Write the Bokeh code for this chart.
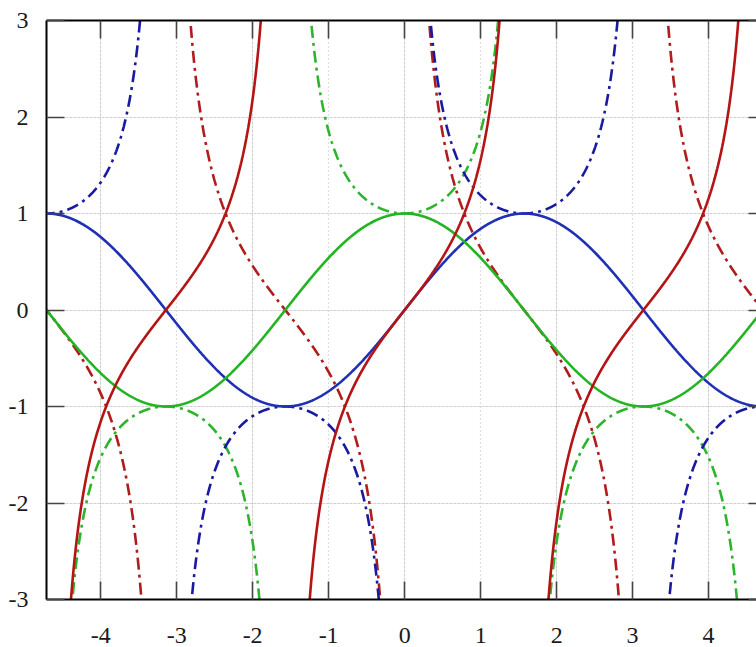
import numpy as np
from bokeh.plotting import figure
from bokeh.models import FixedTicker, LinearAxis, Range1d, Grid
from bokeh.embed import file_html
from bokeh.resources import INLINE

# ---- data ----
x_ticks = [-4, -3, -2, -1, 0, 1, 2, 3, 4]
y_ticks = [-3, -2, -1, 0, 1, 2, 3]
x_min, x_max = -1.5 * np.pi, 4.63
y_min, y_max = -3, 3

series_names = ["cot", "sec", "csc", "sin", "cos", "tan"]
series_colors = ["#b01c1c", "#2cb42c", "#1a1aa0", "#2030b4", "#22b422", "#b41414"]
series_dash = ["12 5 3 5", "12 5 3 5", "12 5 3 5", "solid", "solid", "solid"]

funcs = {
    "sin": (np.sin, []),
    "cos": (np.cos, []),
    "tan": (np.tan, [-1.5 * np.pi, -0.5 * np.pi, 0.5 * np.pi, 1.5 * np.pi]),
    "cot": (lambda t: 1 / np.tan(t), [-2 * np.pi, -np.pi, 0.0, np.pi, 2 * np.pi]),
    "sec": (lambda t: 1 / np.cos(t), [-1.5 * np.pi, -0.5 * np.pi, 0.5 * np.pi, 1.5 * np.pi]),
    "csc": (lambda t: 1 / np.sin(t), [-2 * np.pi, -np.pi, 0.0, np.pi, 2 * np.pi]),
}


def sample(name):
    f, poles = funcs[name]
    lo, hi = x_min - 0.05, x_max + 0.05
    edges = [lo] + [q for q in poles if lo < q < hi] + [hi]
    xs, ys = [], []
    for a, b in zip(edges[:-1], edges[1:]):
        eps = 1e-4
        t = np.linspace(a + eps, b - eps, 1500)
        y = np.clip(f(t), -20, 20)
        xs.extend(t.tolist())
        ys.extend(y.tolist())
        xs.append(np.nan)
        ys.append(np.nan)
    return xs, ys


p = figure(width=756, height=647, output_backend="svg", toolbar_location=None,
           x_range=Range1d(x_min, x_max), y_range=Range1d(y_min, y_max),
           min_border_left=46, min_border_right=0, min_border_top=20, min_border_bottom=48,
           x_axis_location=None, y_axis_location=None)
p.outline_line_color = None
p.background_fill_color = "white"

xg = Grid(dimension=0, ticker=FixedTicker(ticks=x_ticks), grid_line_color="#bdbdbd",
          grid_line_dash="1 3", grid_line_width=1.2)
yg = Grid(dimension=1, ticker=FixedTicker(ticks=y_ticks), grid_line_color="#bdbdbd",
          grid_line_dash="1 3", grid_line_width=1.2)
p.add_layout(xg)
p.add_layout(yg)

for name, col, dash in zip(series_names, series_colors, series_dash):
    xs, ys = sample(name)
    p.line(xs, ys, line_color=col, line_width=2.6, line_dash=dash)

FONT = "Times New Roman"


def style_axis(ax, tick_in, ticks, labels=True, line=True):
    ax.major_tick_in = tick_in
    ax.major_tick_out = 0
    ax.minor_tick_in = 0
    ax.minor_tick_out = 0
    ax.major_tick_line_color = "#444444"
    ax.major_tick_line_width = 1.6
    ax.axis_line_color = "black" if line else None
    ax.axis_line_width = 2
    ax.major_label_text_font = FONT
    ax.major_label_text_font_size = "24px"
    ax.major_label_text_color = "#1a1a1a"
    if labels:
        ax.major_label_overrides = {t: str(t) for t in ticks}
    else:
        ax.major_label_overrides = {t: "" for t in ticks}
        ax.major_label_standoff = 0


bottom = LinearAxis(ticker=FixedTicker(ticks=x_ticks))
style_axis(bottom, 18, x_ticks)
bottom.major_label_standoff = 28
p.add_layout(bottom, "below")

top = LinearAxis(ticker=FixedTicker(ticks=x_ticks))
style_axis(top, 18, x_ticks, labels=False)
p.add_layout(top, "above")

left = LinearAxis(ticker=FixedTicker(ticks=y_ticks))
style_axis(left, 18, y_ticks)
left.major_label_standoff = 18
p.add_layout(left, "left")

right = LinearAxis(ticker=FixedTicker(ticks=y_ticks))
style_axis(right, 8, y_ticks, labels=False, line=False)
p.add_layout(right, "right")

open("out.html", "w").write(file_html(p, INLINE))
